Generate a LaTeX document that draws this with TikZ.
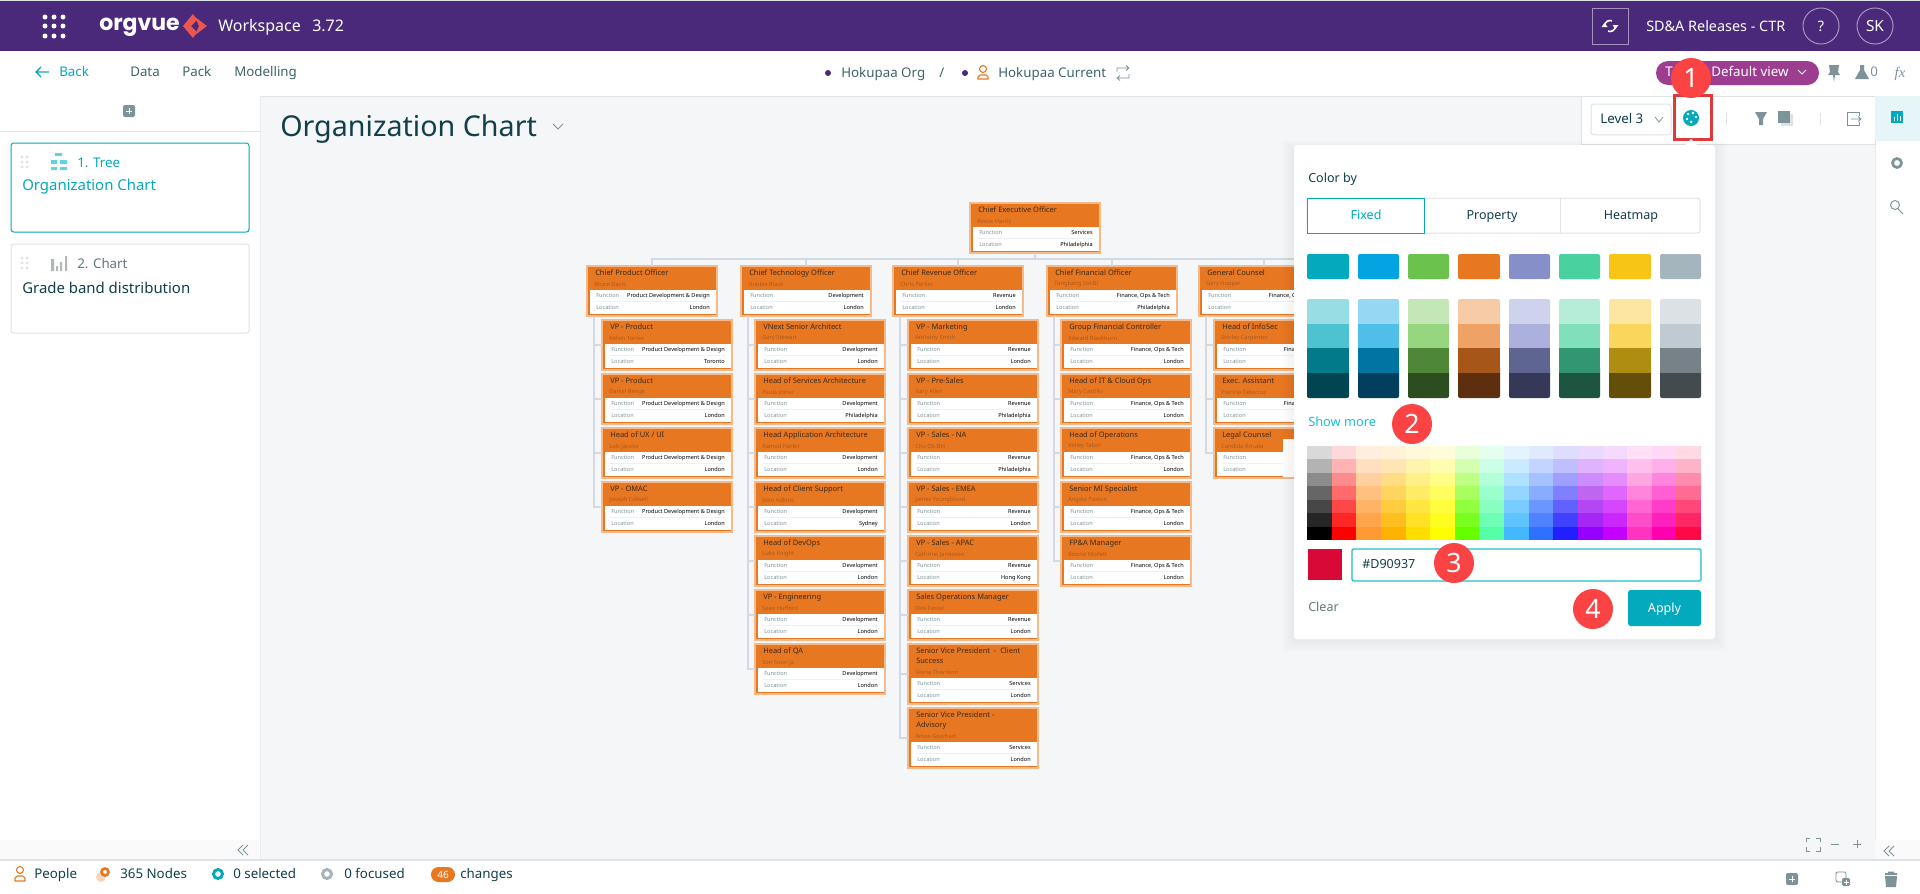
\documentclass[tikz,border=0pt]{standalone}
\usepackage{fontspec}
\setmainfont{Noto Sans}
\newfontfamily\logofont{Poppins}
\newfontfamily\fxfont{Liberation Serif}
\usepackage{tikz}

\definecolor{orgpurple}{HTML}{4A297B}
\definecolor{viewpurple}{HTML}{9C3D8F}
\definecolor{uidark}{HTML}{12404A}
\definecolor{uimid}{HTML}{3E6468}
\definecolor{uigrey}{HTML}{7D9399}
\definecolor{uipale}{HTML}{DDE3E6}
\definecolor{canvasgrey}{HTML}{F5F6F8}
\definecolor{orgteal}{HTML}{03A9BC}
\definecolor{brightteal}{HTML}{1CC0D0}
\definecolor{cardorange}{HTML}{E87722}
\definecolor{cardedge}{HTML}{F5B98A}
\definecolor{cardink}{HTML}{3A2A1C}
\definecolor{linegrey}{HTML}{D3D9E2}
\definecolor{badgered}{HTML}{FB4343}
\definecolor{markred}{HTML}{DD3B3B}
\definecolor{logored}{HTML}{E9574F}
\definecolor{chosenred}{HTML}{D90937}

\tikzset{
  uilabel/.style={inner sep=0pt,anchor=west,execute at begin node={\rule[-0.2em]{0pt}{1.1em}},text=uidark,font=\fontsize{10}{12}\selectfont},
  menulabel/.style={uilabel,text=uimid},
  headlabel/.style={uilabel,text=white,font=\fontsize{10.8}{12}\selectfont},
  stepbadge/.style={circle,fill=badgered,text=white,minimum size=30pt,inner sep=0pt,font=\fontsize{20}{20}\selectfont},
  orgbox/.style={anchor=north west,rectangle,draw=cardedge,line width=0.8pt,fill=cardorange,minimum width=97.5pt,inner sep=0pt,outer sep=0pt},
  orgtitle/.style={anchor=north west,inner sep=0pt,align=left,text=cardink,font=\bfseries\fontsize{5.6}{7.5}\selectfont},
  orgperson/.style={uilabel,text=black!25!cardorange,font=\fontsize{4.3}{5}\selectfont},
  orgkey/.style={uilabel,text=uigrey,font=\fontsize{4.2}{5}\selectfont},
  orgvalue/.style={uilabel,anchor=east,text=black,font=\bfseries\fontsize{4.2}{5}\selectfont},
  orgline/.style={draw=linegrey,line width=1.5pt},
  chevron/.style={draw=uigrey,line width=0.6pt},
  greyicon/.style={fill=uigrey,draw=none},
  lineicon/.style={draw=uigrey,line width=1pt},
  tabbox/.style={draw=uipale,line width=0.75pt,fill=white},
}

\newcommand{\orgcard}[8]{%
\node[orgbox,minimum height=#4*0.75pt] (#1) at (#2,#3) {};
\fill[white] (#2+3,#3+#4-26) rectangle (#2+128.5,#3+#4-2.5);
\draw[uipale!50,line width=0.5pt] (#2+8,#3+#4-14.5) -- (#2+123,#3+#4-14.5);
\node[orgtitle] (#1title) at (#2+8,#3+4) {#5};
\node[orgperson] (#1person) at (#2+7,#3+#4-32) {#6};
\node[orgkey] (#1key) at (#2+9,#3+#4-20) {Function};
\node[orgkey] (#1loc) at (#2+9,#3+#4-8) {Location};
\node[orgvalue] (#1fun) at (#2+123,#3+#4-20) {#7};
\node[orgvalue] (#1place) at (#2+123,#3+#4-8) {#8};
}

\begin{document}
\begin{tikzpicture}[x=0.75pt,y=0.75pt,yscale=-1,xscale=1]
\useasboundingbox (0,0) rectangle (1920,893);

%Shape: canvas and bars
\fill[canvasgrey] (0,0) rectangle (1920,893);
\fill[uipale] (0,0) rectangle (1920,1);
\fill[orgpurple] (0,1) rectangle (1920,51);
\fill[white] (0,51) rectangle (1920,96);
\draw[uipale,line width=0.75pt] (0,96) -- (1920,96);
\fill[white] (0,96) rectangle (260,860);
\draw[uipale!60,line width=0.75pt] (260,96) -- (260,860);
\draw[uipale,line width=0.75pt] (0,131) -- (260,131);
\fill[canvasgrey!50] (0,840) rectangle (260,860);
\fill[white] (1875,96) rectangle (1920,860);
\draw[uipale!60,line width=0.75pt] (1875,96) -- (1875,860);
\fill[canvasgrey!50] (1875,840) rectangle (1920,860);
\fill[white] (0,860) rectangle (1920,893);
\draw[uipale,line width=1pt] (0,860) -- (1920,860);

%Shape: top bar
\foreach \x in {45,54,63}
  \foreach \y in {17,26,36}
    \fill[white] (\x,\y) circle (2.5);
\node[headlabel,font=\logofont\bfseries\fontsize{16.5}{20}\selectfont] (logotext) at (99,24) {orgvue};
\fill[logored] (183,26) -- (193,14) -- (197,20) -- (191,26) -- cycle;
\fill[logored] (183,26) -- (191,26) -- (197,32) -- (193,38) -- cycle;
\fill[logored] (195,17) -- (207,26) -- (195,35) -- (199,26) -- cycle;
\node[headlabel,font=\fontsize{12}{14}\selectfont] (workspace) at (218,26) {Workspace};
\node[headlabel,font=\fontsize{12}{14}\selectfont] (version) at (312,26) {3.72};
\draw[white!50!orgpurple,line width=0.75pt] (1592,8) rectangle (1628,44);
\draw[white,line width=1.2pt] (1604.5,26) arc (180:290:5.5);
\draw[white,line width=1.2pt] (1615.5,26) arc (0:110:5.5);
\fill[white] (1601.5,27) -- (1607.5,27) -- (1604.5,23) -- cycle;
\fill[white] (1612.5,25) -- (1618.5,25) -- (1615.5,29) -- cycle;
\node[headlabel] (release) at (1646,26) {SD\&A Releases - CTR};
\node[headlabel,circle,draw=white!50!orgpurple,line width=0.75pt,minimum size=27pt,anchor=center] (help) at (1821,26) {?};
\node[headlabel,circle,draw=white!50!orgpurple,line width=0.75pt,minimum size=27pt,anchor=center,font=\bfseries\fontsize{11.5}{12}\selectfont] (user) at (1875,26) {SK};

%Shape: second bar
\draw[orgteal,line width=0.8pt] (49,72) -- (36,72) (41,67) -- (36,72) -- (41,77);
\node[uilabel,text=orgteal] (back) at (59,72) {Back};
\node[menulabel] (data) at (130,72) {Data};
\node[menulabel] (pack) at (182,72) {Pack};
\node[menulabel] (modelling) at (234,72) {Modelling};
\fill[orgpurple] (828,73) circle (3);
\node[menulabel] (orgdata) at (841,73) {Hokupaa Org};
\node[menulabel] (slash) at (939,73) {/};
\fill[orgpurple] (965,73) circle (3);
\draw[cardorange,line width=0.8pt] (983,69) circle (3.5);
\draw[cardorange,line width=0.8pt] (978,79) -- (978,77) -- (980,75) -- (986,75) -- (988,77) -- (988,79) -- cycle;
\node[menulabel] (orgcurrent) at (998,73) {Hokupaa Current};
\draw[lineicon,line width=0.6pt] (1117,72) -- (1117,68) -- (1129,68) (1126,65.5) -- (1129,68) -- (1126,70.5);
\draw[lineicon,line width=0.6pt] (1129,74) -- (1129,78) -- (1117,78) (1120,75.5) -- (1117,78) -- (1120,80.5);
\fill[viewpurple] (1656,61) [rounded corners=9pt] rectangle (1819,85);
\node[headlabel,font=\fontsize{10}{12}\selectfont] (viewtee) at (1665,72) {T};
\node[headlabel,font=\fontsize{10}{12}\selectfont] (viewname) at (1711,72) {Default view};
\draw[white,line width=0.7pt] (1798,70) -- (1802,74) -- (1806,70);
\fill[greyicon] (1829,65) -- (1839,65) -- (1838,72) -- (1840,75) -- (1835,75) -- (1834,82) -- (1833,75) -- (1828,75) -- (1830,72) -- cycle;
\fill[greyicon] (1860,65) -- (1864,65) -- (1864,70) -- (1869,79) -- (1855,79) -- (1860,70) -- cycle;
\node[menulabel,text=uigrey] (flaskcount) at (1870,72) {0};
\node[uilabel,text=uigrey,anchor=center,font=\fxfont\itshape\fontsize{11}{12}\selectfont] (fxlabel) at (1900,72) {fx};

%Shape: left panel
\fill[greyicon,rounded corners=1.5pt] (123,105) rectangle (135,117);
\draw[white,line width=0.7pt] (129,108) -- (129,114) (126,111) -- (132,111);
\draw[orgteal,line width=0.75pt,fill=white,rounded corners=2pt] (11,143) rectangle (249,232);
\draw[uipale,line width=0.75pt,fill=white,rounded corners=2pt] (11,244) rectangle (249,333);
\foreach \y in {157,162,167}
  \foreach \x in {22,27}
    \fill[uipale] (\x,\y) circle (1.6);
\foreach \y in {258,263,268}
  \foreach \x in {22,27}
    \fill[uipale] (\x,\y) circle (1.6);
\fill[brightteal!70] (55,153) rectangle (62,156) (51,160) rectangle (57,164) (60,160) rectangle (67,164) (51,167) rectangle (57,170) (60,167) rectangle (67,170);
\node[uilabel,text=orgteal] (treeno) at (77,163) {1. Tree};
\node[uilabel,text=orgteal,font=\fontsize{11.2}{13}\selectfont] (treename) at (22,186) {Organization Chart};
\fill[uipale!80!black] (51,259) rectangle (54,271) (56,266) rectangle (58,271) (60,262) rectangle (62,271) (65,256) rectangle (67,271);
\node[uilabel,text=uigrey!80!black] (chartno) at (77,264) {2. Chart};
\node[uilabel,font=\fontsize{11.2}{13}\selectfont] (chartname) at (22,288) {Grade band distribution};
\node[uilabel,font=\fontsize{21.5}{26}\selectfont] (charttitle) at (280,127) {Organization Chart};
\draw[chevron] (553,124) -- (558,129) -- (563,124);

%Shape: tree cards
\orgcard{ceo}{970}{203}{50}{Chief Executive Officer}{Reece Harris}{Services}{Philadelphia}
\orgcard{cpo}{587}{266}{50}{Chief Product Officer}{Bruce Davis}{Product Development \& Design}{London}
\orgcard{cto}{741}{266}{50}{Chief Technology Officer}{Hobbie Black}{Development}{London}
\orgcard{cro}{893}{266}{50}{Chief Revenue Officer}{Chris Parker}{Revenue}{London}
\orgcard{cfo}{1047}{266}{50}{Chief Financial Officer}{Tongbang Sol-Bi}{Finance, Ops \& Tech}{Philadelphia}
\orgcard{gc}{1199}{266}{50}{General Counsel}{Gary Hopper}{Finance, Ops \& Tech}{London}

\orgcard{cpoa}{602}{320}{50}{VP - Product}{Kelvin Torres}{Product Development \& Design}{Toronto}
\orgcard{cpob}{602}{374}{50}{VP - Product}{Daniel Benge}{Product Development \& Design}{London}
\orgcard{cpoc}{602}{428}{50}{Head of UX / UI}{Lois Jacobs}{Product Development \& Design}{London}
\orgcard{cpod}{602}{482}{50}{VP - OMAC}{Joseph Colwell}{Product Development \& Design}{London}

\orgcard{ctoa}{755}{320}{50}{VNext Senior Architect}{Gary Stewart}{Development}{London}
\orgcard{ctob}{755}{374}{50}{Head of Services Architecture}{Paula Joiner}{Development}{Philadelphia}
\orgcard{ctoc}{755}{428}{50}{Head Application Architecture}{Kamod Harbir}{Development}{London}
\orgcard{ctod}{755}{482}{50}{Head of Client Support}{John Adkins}{Development}{Sydney}
\orgcard{ctoe}{755}{536}{50}{Head of DevOps}{Luke Knight}{Development}{London}
\orgcard{ctof}{755}{590}{50}{VP - Engineering}{Sean Hufford}{Development}{London}
\orgcard{ctog}{755}{644}{50}{Head of QA}{Son Soon-Ja}{Development}{London}

\orgcard{croa}{908}{320}{50}{VP - Marketing}{Anthony Smith}{Revenue}{London}
\orgcard{crob}{908}{374}{50}{VP - Pre-Sales}{Gary Allen}{Revenue}{Philadelphia}
\orgcard{croc}{908}{428}{50}{VP - Sales - NA}{Chu Ok-Bin}{Revenue}{Philadelphia}
\orgcard{crod}{908}{482}{50}{VP - Sales - EMEA}{James Youngblood}{Revenue}{London}
\orgcard{croe}{908}{536}{50}{VP - Sales - APAC}{Cathrine Jamieson}{Revenue}{Hong Kong}
\orgcard{crof}{908}{590}{50}{Sales Operations Manager}{Dirk Foster}{Revenue}{London}
\orgcard{crog}{908}{644}{60}{Senior Vice President\ \ - \ Client\\Success}{Gloria Thornton}{Services}{London}
\orgcard{croh}{908}{708}{60}{Senior Vice President -\\Advisory}{Amos Gearhart}{Services}{London}

\orgcard{cfoa}{1061}{320}{50}{Group Financial Controller}{Edward Blackburn}{Finance, Ops \& Tech}{London}
\orgcard{cfob}{1061}{374}{50}{Head of IT \& Cloud Ops}{Mary Castillo}{Finance, Ops \& Tech}{London}
\orgcard{cfoc}{1061}{428}{50}{Head of Operations}{Kelley Tabor}{Finance, Ops \& Tech}{London}
\orgcard{cfod}{1061}{482}{50}{Senior MI Specialist}{Angela Paxton}{Finance, Ops \& Tech}{London}
\orgcard{cfoe}{1061}{536}{50}{FP\&A Manager}{Ebonie Mollett}{Finance, Ops \& Tech}{London}

\orgcard{gca}{1214}{320}{50}{Head of InfoSec}{Shirley Carpenter}{Finance, Ops \& Tech}{London}
\orgcard{gcb}{1214}{374}{50}{Exec. Assistant}{Patricia Delacruz}{Finance, Ops \& Tech}{London}
\orgcard{gcc}{1214}{428}{50}{Legal Counsel}{Candida Arruda}{Finance, Ops \& Tech}{London}

%Straight Lines: tree connectors
\coordinate (orgbar) at (1035,259);
\coordinate (orgbarend) at (1300,259);
\draw[orgline] (ceo.south) -- (orgbar) -- (orgbarend);
\foreach \n in {cpo,cto,cro,cfo,gc}
  \draw[orgline] (orgbar) -| (\n.north);
\foreach \n in {cpoa,cpob,cpoc,cpod}
  \draw[orgline] ([xshift=5.25pt]cpo.south west) |- (\n.west);
\foreach \n in {ctoa,ctob,ctoc,ctod,ctoe,ctof,ctog}
  \draw[orgline] ([xshift=5.25pt]cto.south west) |- (\n.west);
\foreach \n in {croa,crob,croc,crod,croe,crof,crog,croh}
  \draw[orgline] ([xshift=5.25pt]cro.south west) |- (\n.west);
\foreach \n in {cfoa,cfob,cfoc,cfod,cfoe}
  \draw[orgline] ([xshift=5.25pt]cfo.south west) |- (\n.west);
\foreach \n in {gca,gcb,gcc}
  \draw[orgline] ([xshift=5.25pt]gc.south west) |- (\n.west);
\fill[white] (1283,439) rectangle (1294,477);

%Shape: toolbar
\draw[uipale,line width=0.75pt,fill=white] (1581,96) rectangle (1875,144);
\fill[orgteal!10] (1875,96) rectangle (1920,141);
\node[draw=uipale,line width=0.75pt,anchor=center,minimum width=60pt,minimum height=23pt,rounded corners=2pt,fill=white,inner sep=0pt] (levelbox) at (1631,119.5) {};
\node[menulabel,text=uidark] (level) at (1600,119) {Level 3};
\draw[chevron] (1655,117) -- (1659,122) -- (1663,117);
\fill[orgteal] (1691,118) circle (8);
\fill[white] (1688,114) circle (1.3) (1693,113) circle (1.3) (1696,117) circle (1.3) (1687,119) circle (1.3) (1691,122) circle (1.5);
\draw[uipale,line width=0.75pt] (1726.5,113) -- (1726.5,125) (1820,113) -- (1820,125);
\fill[greyicon] (1755,112) -- (1767,112) -- (1763,119) -- (1763,125) -- (1759,125) -- (1759,119) -- cycle;
\fill[uipale] (1781,114) rectangle (1793,126);
\fill[greyicon] (1778,111) rectangle (1790,123);
\draw[lineicon,line width=0.7pt] (1859,116) -- (1859,112) -- (1847,112) -- (1847,125) -- (1859,125) -- (1859,122);
\draw[lineicon,line width=0.6pt] (1851,119) -- (1861,119) (1858,116.5) -- (1861,119) -- (1858,121.5);
\fill[orgteal] (1891,111) rectangle (1903,123);
\draw[white,line width=0.6pt] (1894,121) -- (1894,117) (1897,121) -- (1897,114) (1900,121) -- (1900,116);
\draw[uigrey,line width=2pt] (1897,163) circle (4.5);
\draw[uigrey,line width=0.7pt] (1895,205) circle (4.5) (1898,209) -- (1903,214);
\draw[markred,line width=2.25pt] (1674,95) rectangle (1711,139);
\node[stepbadge] (stepa) at (1691,78) {1};

%Shape: popup panel
\foreach \s in {12,9,6,3}
  \fill[black,opacity=0.01] (1294-\s,147-\s/2) rectangle (1715+\s,639+\s);
\fill[white] (1685,145) -- (1691,139) -- (1697,145) -- cycle;
\fill[white,rounded corners=2pt] (1294,145) rectangle (1715,639);
\node[uilabel,font=\fontsize{9.4}{12}\selectfont] (colorby) at (1308,178) {Color by};
\draw[tabbox,rounded corners=2pt] (1307,198) rectangle (1700,233);
\draw[uipale,line width=0.75pt] (1560,198) -- (1560,233);
\draw[orgteal,line width=0.75pt,fill=white] (1307,198) rectangle (1424,233);
\node[uilabel,anchor=center,text=orgteal,font=\fontsize{9.4}{12}\selectfont] (fixedtab) at (1366,215.5) {Fixed};
\node[uilabel,anchor=center,font=\fontsize{9.4}{12}\selectfont] (propertytab) at (1492,215.5) {Property};
\node[uilabel,anchor=center,font=\fontsize{9.4}{12}\selectfont] (heatmaptab) at (1631,215.5) {Heatmap};

%Shape: fixed colour rows
\foreach \x/\w/\t/\a/\b/\c/\d in {
  1307/42/03A9BC/99DDE4/4DC3D1/027A8A/024552,
  1358/41/03A4E2/96D7F3/4FBFEA/0274A3/023F5E,
  1408/41/6BC24D/C4E7B8/98D57F/4F8738/2D4C1F,
  1458/42/E87722/F6CBA6/EFA266/A65618/5E2F0F,
  1509/41/878FC8/CFD2EC/ABB0DC/5F6591/353856,
  1559/41/49D19F/B6EDD9/80E0BC/339672/1D5540,
  1609/42/F7C516/FCE6A2/FAD65C/AE8D10/634F09,
  1660/41/A5B5BD/DBE1E4/BFCBD1/768288/444B4E}{
  \definecolor{swatchtop}{HTML}{\t}
  \definecolor{swatcha}{HTML}{\a}
  \definecolor{swatchb}{HTML}{\b}
  \definecolor{swatchc}{HTML}{\c}
  \definecolor{swatchd}{HTML}{\d}
  \fill[swatchtop,rounded corners=1.5pt] (\x,254) rectangle (\x+\w,279);
  \fill[swatcha,rounded corners=1.5pt] (\x,299) rectangle (\x+\w,330);
  \fill[swatchd,rounded corners=1.5pt] (\x,366) rectangle (\x+\w,398);
  \fill[swatchb] (\x,324) rectangle (\x+\w,348.5);
  \fill[swatchc] (\x,348) rectangle (\x+\w,373);
}
\node[uilabel,text=brightteal,font=\fontsize{9.6}{12}\selectfont] (showmore) at (1308,422) {Show more};
\node[stepbadge] (stepb) at (1412,424) {2};

%Shape: colour grid
\foreach \col [count=\i from 0] in {
  {D9D9D9,B3B3B3,8C8C8C,666666,474747,262626,000000},
  {FFD9D9,FFB3B3,FF8C8C,FF6B6B,FF4747,FF2626,FF0000},
  {FFEEDD,FFDFC0,FFD09F,FFC080,FFB366,FFA64D,FF9933},
  {FFF2D9,FFE5B3,FFDD85,FFD55F,FFCC3D,FFBE1F,FFB300},
  {FFF8D9,FFF4AD,FFF088,FFEC66,FFE640,FFE226,FFDD00},
  {FFFDD9,FFFDB0,FFFD85,FFFD5F,FFFD3D,FFFD20,FFFF00},
  {E8FFD9,D5FFB0,BFFF85,A8FF5F,90FF3D,78FF20,66FF00},
  {E5FFEF,CCFFE6,B3FFD9,99FFCC,88FFC0,6CFFB5,55FFA6},
  {E3F4FF,C9EAFF,AEE0FF,94D6FF,79CCFF,5FC3FF,44B8FF},
  {E0EAFF,C2D4FF,A6C1FF,88ACFF,6A97FF,4E82FF,2E70FF},
  {DDDDFF,BFBFFF,9F9FFF,8080FF,6161FF,4040FF,2020FF},
  {EAD9FF,E0B3FF,CC8CFF,BF66F0,B347F5,A626F5,9500FF},
  {F5D9FF,EFB3FF,E58CFF,DF66FF,D547FF,CC26FF,C400FF},
  {FFE0F5,FFC0EC,FFA6E3,FF85DB,FF66D2,FF4DCA,FF33C0},
  {FFD9F5,FFB0EB,FF85DF,FF5FD3,FF3DC8,FF20BD,FF00B0},
  {FFD9E3,FFB3C8,FF8CAC,FF6B93,FF477A,FF2666,FF0848}}{
  \foreach \h [count=\j from 0] in \col {
    \definecolor{gridcell}{HTML}{\h}
    \fill[gridcell] (1307+\i*24.63,446+\j*13.43) rectangle (1307+\i*24.63+24.9,446+\j*13.43+13.7);
  }
}

%Shape: colour entry
\fill[chosenred] (1308,549) rectangle (1342,580);
\draw[brightteal,line width=1pt,fill=white,rounded corners=1pt] (1352,549) rectangle (1701,581);
\node[uilabel,font=\fontsize{9.4}{12}\selectfont] (hexcode) at (1362,564) {\#D90937};
\node[stepbadge] (stepc) at (1454,563) {3};
\node[uilabel,text=uigrey!80!black,font=\fontsize{9.4}{12}\selectfont] (clear) at (1308,607) {Clear};
\node[stepbadge] (stepd) at (1593,609) {4};
\node[uilabel,anchor=center,fill=orgteal,text=white,minimum width=54.75pt,minimum height=27pt,rounded corners=2pt,font=\bfseries\fontsize{9.4}{12}\selectfont] (apply) at (1664.5,608) {Apply};

%Shape: map controls
\draw[lineicon,line width=0.6pt] (1806,842) -- (1806,838) -- (1810,838) (1816,838) -- (1820,838) -- (1820,842) (1820,847) -- (1820,851) -- (1816,851) (1810,851) -- (1806,851) -- (1806,847);
\draw[lineicon,line width=0.7pt] (1831,844) -- (1839,844) (1853,844) -- (1861,844) (1857,840) -- (1857,848);
\draw[chevron] (248,845) -- (243,850) -- (248,855) (243,845) -- (238,850) -- (243,855);
\draw[chevron] (1894,846) -- (1889,851) -- (1894,856) (1889,846) -- (1884,851) -- (1889,856);

%Shape: bottom bar
\draw[cardorange,line width=0.8pt] (20,870) circle (3.5);
\draw[cardorange,line width=0.8pt] (15,881) -- (15,878) -- (17,876) -- (23,876) -- (25,878) -- (25,881) -- cycle;
\node[menulabel,text=uidark] (people) at (34,874) {People};
\fill[cardedge!60] (101,877) circle (5);
\draw[cardorange,line width=2pt] (105,872) circle (3.5);
\node[menulabel,text=uidark] (nodecount) at (120,874) {365 Nodes};
\draw[orgteal,line width=2.2pt] (218,874) circle (4.5);
\node[menulabel,text=uidark] (selected) at (233,874) {0 selected};
\draw[uigrey!70,line width=2.2pt] (327,874) circle (4.5);
\node[menulabel,text=uidark] (focused) at (344,874) {0 focused};
\fill[cardorange,rounded corners=5.6pt] (431,867) rectangle (455,882);
\node[uilabel,anchor=center,text=white,font=\bfseries\fontsize{7.5}{9}\selectfont] (changecount) at (443,874.5) {46};
\node[menulabel,text=uidark] (changes) at (460,874) {changes};
\fill[greyicon,rounded corners=1.5pt] (1786,873) rectangle (1798,885);
\draw[white,line width=0.7pt] (1792,876) -- (1792,882) (1789,879) -- (1795,879);
\draw[lineicon,line width=0.7pt,rounded corners=1pt] (1836,872) rectangle (1846,882);
\fill[greyicon,rounded corners=1pt] (1842,878) rectangle (1850,886);
\draw[white,line width=0.6pt] (1846,879.5) -- (1846,884.5) (1843.5,882) -- (1848.5,882);
\fill[greyicon] (1885,876) -- (1897,876) -- (1896,887) -- (1886,887) -- cycle;
\fill[greyicon] (1885,873) rectangle (1897,875) (1888,871.5) rectangle (1894,873);

\end{tikzpicture}
\end{document}
